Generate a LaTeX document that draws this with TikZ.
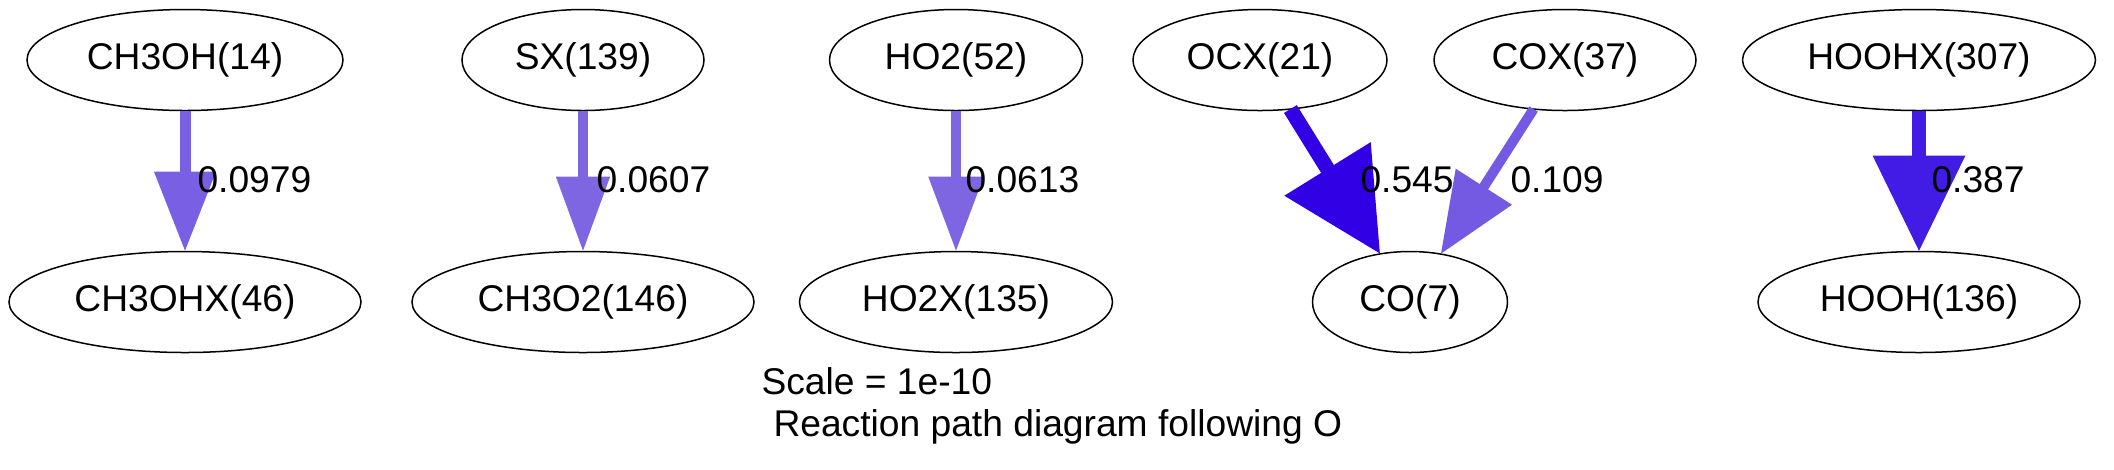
\documentclass[tikz,border=0pt]{standalone}
\usepackage{fontspec}
\setmainfont{Liberation Sans}
\usepackage{xcolor}
\usepackage{tikz}
\usetikzlibrary{arrows.meta}
\usetikzlibrary{shapes.geometric}

\definecolor{fluxlow}{HTML}{785FE3}
\definecolor{fluxpale}{HTML}{7E66E3}
\definecolor{fluxmid}{HTML}{7459E2}
\definecolor{fluxhigh}{HTML}{421CE4}
\definecolor{fluxtop}{HTML}{3200E5}

\begin{document}
\begin{tikzpicture}[x=0.4pt,y=-0.4pt,
  every node/.style={font=\fontsize{14.88}{18}\selectfont},
  species/.style={draw,ellipse,line width=0.6pt,inner sep=0pt,outer sep=0pt,minimum height=40.4pt},
  flux/.style n args={4}{line width=#1,color=#4,-{Triangle[length=#2,width=#3]}},
  amount/.style={anchor=base west,inner sep=0pt},
  legend/.style={anchor=base west,inner sep=0pt}]

    \useasboundingbox (0,0) rectangle (2114,469);

    \node[species,minimum width=126.4pt](ch3oh) at (185,60){CH3OH(14)};
    \node[species,minimum width=140.8pt](ch3ohx) at (185,302){CH3OHX(46)};
    \node[species,minimum width=96.8pt](sx) at (583,60){SX(139)};
    \node[species,minimum width=136.8pt](ch3o2) at (583,302){CH3O2(146)};
    \node[species,minimum width=101.2pt](ho2) at (956,60){HO2(52)};
    \node[species,minimum width=125.2pt](ho2x) at (956,302){HO2X(135)};
    \node[species,minimum width=101.6pt](ocx) at (1260,60){OCX(21)};
    \node[species,minimum width=104.8pt](cox) at (1565,60){COX(37)};
    \node[species,minimum width=78pt](co) at (1410,302){CO(7)};
    \node[species,minimum width=141.2pt](hoohx) at (1919,60){HOOHX(307)};
    \node[species,minimum width=128.8pt](hooh) at (1919,302){HOOH(136)};

    \draw[flux={4.4pt}{32pt}{23.6pt}{fluxlow}](ch3oh) -- (ch3ohx);
    \draw[flux={4pt}{30pt}{20.6pt}{fluxpale}](sx) -- (ch3o2);
    \draw[flux={4.2pt}{30pt}{21pt}{fluxpale}](ho2) -- (ho2x);
    \draw[flux={6pt}{40pt}{39pt}{fluxtop}](ocx) -- (co);
    \draw[flux={4pt}{32pt}{25.6pt}{fluxmid}](cox) -- (co);
    \draw[flux={5.6pt}{38.4pt}{35.6pt}{fluxhigh}](hoohx) -- (hooh);

    \node[amount](f1) at (197,192){0.0979};
    \node[amount](f2) at (596,192){0.0607};
    \node[amount](f3) at (965,192){0.0613};
    \node[amount](f4) at (1360,192){0.545};
    \node[amount](f5) at (1510,192){0.109};
    \node[amount](f6) at (1931,192){0.387};

    \node[legend](scale) at (761,394){Scale = 1e-10};
    \node[legend](title) at (773,436){Reaction path diagram following O};
\end{tikzpicture}
\end{document}
